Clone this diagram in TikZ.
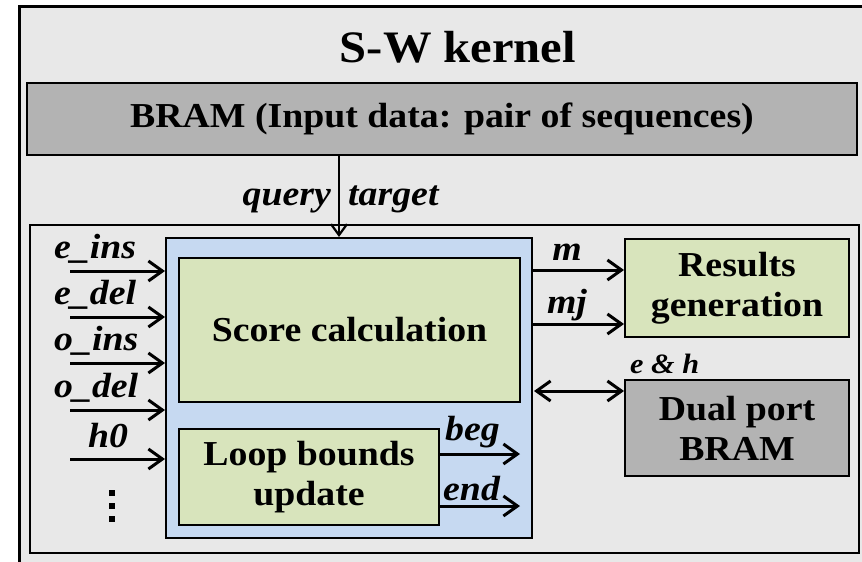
\documentclass[tikz,border=0pt]{standalone}
\usepackage{fontspec}
\setmainfont{Liberation Serif}[FakeStretch=1.08]
\usetikzlibrary{arrows.meta}
\definecolor{bgray}{RGB}{232,232,232}
\definecolor{bramgray}{RGB}{179,179,179}
\definecolor{bluef}{RGB}{198,217,241}
\definecolor{greenf}{RGB}{216,228,188}
\begin{document}
\begin{tikzpicture}[x=1pt,y=-1pt,
  box/.style={draw=black, line width=2pt, rectangle, inner sep=0pt, align=center,
    font=\fontsize{35}{40}\selectfont\bfseries},
  arr/.style={line width=3pt, -{Straight Barb[length=14pt,width=20pt]}},
  darr/.style={line width=3pt, {Straight Barb[length=14pt,width=20pt]}-{Straight Barb[length=14pt,width=20pt]}},
  qarr/.style={line width=2.2pt, -{Straight Barb[length=11pt,width=16pt]}},
  lbl/.style={font=\fontsize{35}{40}\selectfont\bfseries\itshape, inner sep=0pt},
  dot/.style={fill=black, minimum size=6pt, inner sep=0pt, rectangle},
]
\clip (0,0) rectangle (862,562);
\fill[white] (0,0) rectangle (862,562);
\node[draw, line width=3pt, fill=bgray, minimum width=900, minimum height=600,
  anchor=north west, inner sep=0pt] (outer) at (18,5) {};
\node[font=\fontsize{45}{50}\selectfont\bfseries, anchor=base, inner sep=0pt] (title) at (458,62) {S-W kernel};
\node[box, fill=bramgray, minimum width=830, minimum height=72] (bram) at (442,119)
  {BRAM (Input data: pair of sequences)};
\node[draw, line width=2pt, minimum width=829, minimum height=328, inner sep=0pt] (inner) at (444.5,389) {};
\node[draw, line width=2pt, fill=bluef, minimum width=366, minimum height=300, inner sep=0pt] (blue) at (349,388) {};
\node[box, fill=greenf, minimum width=341, minimum height=144] (score) at (349.5,330) {Score calculation};
\node[box, fill=greenf, minimum width=260, minimum height=96] (loop) at (309,477) {Loop bounds\\update};
\node[box, fill=greenf, minimum width=224, minimum height=98] (results) at (737,288) {Results\\generation};
\node[box, fill=bramgray, minimum width=224, minimum height=96] (dual) at (737,428) {Dual port\\BRAM};

% query / target
\coordinate (q) at (339,155);
\draw[qarr] (q) -- (q |- blue.north);
\node[lbl, anchor=base east] (query) at (331,205) {query};
\node[lbl, anchor=base west] (target) at (348,205) {target};

% inputs
\coordinate (i1) at (70,271);
\coordinate (i2) at (70,317);
\coordinate (i3) at (70,363);
\coordinate (i4) at (70,410);
\coordinate (i5) at (70,459);
\draw[arr] (i1) -- (i1 -| blue.west);
\draw[arr] (i2) -- (i2 -| blue.west);
\draw[arr] (i3) -- (i3 -| blue.west);
\draw[arr] (i4) -- (i4 -| blue.west);
\draw[arr] (i5) -- (i5 -| blue.west);
\node[lbl, anchor=base west] (l1) at (54,258) {e\_ins};
\node[lbl, anchor=base west] (l2) at (54,304) {e\_del};
\node[lbl, anchor=base west] (l3) at (54,350) {o\_ins};
\node[lbl, anchor=base west] (l4) at (54,397) {o\_del};
\node[lbl, anchor=base] (l5) at (108,447) {h0};
\node[dot] (d1) at (112,493) {};
\node[dot] (d2) at (112,506) {};
\node[dot] (d3) at (112,519) {};

% outputs
\coordinate (o1) at (532,270);
\coordinate (o2) at (532,324);
\draw[arr] (o1) -- (o1 -| results.west);
\draw[arr] (o2) -- (o2 -| results.west);
\node[lbl, anchor=base] (lm) at (567,260) {m};
\node[lbl, anchor=base] (lmj) at (567,313) {mj};

\coordinate (eh) at (534,391);
\draw[darr] (eh) -- (eh -| dual.west);
\node[lbl, font=\fontsize{28}{32}\selectfont\bfseries\itshape, anchor=base west] (leh) at (630,373) {e \& h};

% loop outputs
\coordinate (b1) at (520,454);
\coordinate (b2) at (520,506);
\draw[arr] (b1 -| loop.east) -- (b1);
\draw[arr] (b2 -| loop.east) -- (b2);
\node[lbl, anchor=base west] (lbeg) at (445,440) {beg};
\node[lbl, anchor=base west] (lend) at (443,500) {end};
\end{tikzpicture}
\end{document}
